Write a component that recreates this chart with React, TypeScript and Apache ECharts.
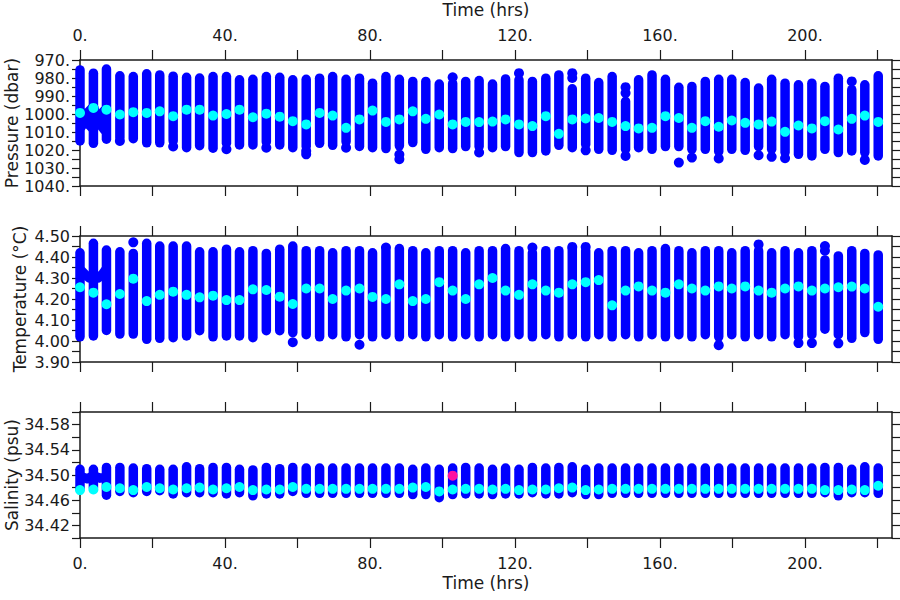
import React, { useEffect, useRef } from 'react';
import * as echarts from 'echarts';

// ---------- data ----------
const TIMES = [0.0, 3.7, 7.3, 11.0, 14.7, 18.4, 22.0, 25.7, 29.4, 33.0, 36.7, 40.4, 44.0, 47.7, 51.4, 55.1, 58.7, 62.4, 66.1, 69.7, 73.4, 77.1, 80.7, 84.4, 88.1, 91.8, 95.4, 99.1, 102.8, 106.4, 110.1, 113.8, 117.4, 121.1, 124.8, 128.5, 132.1, 135.8, 139.5, 143.1, 146.8, 150.5, 154.1, 157.8, 161.5, 165.2, 168.8, 172.5, 176.2, 179.8, 183.5, 187.2, 190.8, 194.5, 198.2, 201.9, 205.5, 209.2, 212.9, 216.5, 220.2];

const P_TOP = [975.5, 977.3, 975.0, 978.8, 979.2, 977.7, 978.3, 979.0, 979.6, 980.0, 979.2, 979.2, 981.0, 980.7, 979.2, 979.6, 981.0, 980.7, 980.1, 979.2, 980.7, 980.1, 982.9, 979.2, 980.7, 981.9, 981.9, 983.4, 983.0, 981.9, 981.4, 983.4, 980.5, 981.0, 981.9, 980.1, 978.3, 986.0, 980.1, 982.5, 979.2, 993.0, 981.0, 978.3, 980.7, 985.2, 984.7, 981.9, 980.7, 980.7, 982.5, 985.6, 980.7, 982.9, 983.8, 982.9, 984.7, 980.1, 986.5, 983.8, 978.8];
const P_BOT = [1015.0, 1016.3, 1014.0, 1013.2, 1013.7, 1016.0, 1016.0, 1015.0, 1018.7, 1017.6, 1019.0, 1016.3, 1017.2, 1017.2, 1015.5, 1017.2, 1018.7, 1018.0, 1016.3, 1017.4, 1015.4, 1018.0, 1018.7, 1019.2, 1017.7, 1015.9, 1019.6, 1018.7, 1019.2, 1018.1, 1018.1, 1018.7, 1018.1, 1021.4, 1021.4, 1020.5, 1017.4, 1018.7, 1017.0, 1019.6, 1020.2, 1019.6, 1018.7, 1019.6, 1018.1, 1018.1, 1019.6, 1019.6, 1020.9, 1019.6, 1020.2, 1018.1, 1019.6, 1021.4, 1022.4, 1023.3, 1019.6, 1021.4, 1020.5, 1021.4, 1023.3];
const P_MEAN = [999.4, 996.6, 997.6, 1000.3, 999.0, 999.4, 998.5, 1001.2, 997.6, 997.6, 1000.9, 1000.0, 997.6, 1001.8, 999.8, 1001.5, 1004.0, 1005.8, 999.4, 1000.9, 1007.7, 1003.0, 998.1, 1004.4, 1003.0, 998.5, 1002.7, 1000.3, 1005.8, 1004.4, 1004.5, 1004.2, 1003.0, 1005.8, 1006.7, 1001.2, 1011.0, 1003.0, 1002.5, 1002.2, 1004.4, 1006.7, 1008.0, 1007.7, 1001.2, 1002.2, 1007.7, 1004.0, 1007.1, 1003.6, 1004.9, 1005.8, 1004.2, 1009.9, 1006.4, 1008.0, 1004.0, 1008.6, 1002.7, 1000.9, 1004.4];
// isolated profile points: [column index, pressure]
const P_OUT = [[3, 1015.0], [7, 1018.0], [11, 1019.6], [14, 1018.7], [17, 1020.5], [17, 1022.4], [20, 1018.7], [24, 1022.5], [24, 1025.1], [28, 979.6], [30, 1021.4], [33, 977.3], [37, 977.3], [37, 980.0], [38, 1020.2], [41, 985.1], [41, 988.4], [41, 1023.3], [45, 1027.0], [46, 1024.2], [48, 1024.7], [51, 1022.9], [52, 1023.8], [53, 1024.6], [58, 981.9], [59, 1025.5]];
// first hours: ship-board casts drawn as traces [time, pressure]
const P_TRACE_A = [[0.4, 1007.0], [2.0, 999.5], [3.7, 996.0], [5.3, 1005.0], [6.8, 1009.0]];
const P_TRACE_B = [[0.4, 999.0], [2.0, 1005.0], [3.7, 1008.5], [5.3, 1001.0], [6.8, 998.0]];

const T_TOP = [4.42, 4.465, 4.433, 4.425, 4.417, 4.465, 4.452, 4.452, 4.452, 4.425, 4.425, 4.437, 4.425, 4.43, 4.417, 4.437, 4.452, 4.43, 4.43, 4.42, 4.43, 4.43, 4.42, 4.43, 4.44, 4.43, 4.42, 4.43, 4.43, 4.42, 4.43, 4.43, 4.44, 4.43, 4.42, 4.43, 4.43, 4.44, 4.43, 4.42, 4.43, 4.43, 4.42, 4.43, 4.44, 4.43, 4.42, 4.43, 4.43, 4.42, 4.43, 4.43, 4.42, 4.43, 4.42, 4.43, 4.386, 4.405, 4.43, 4.417, 4.41];
const T_BOT = [4.02, 4.024, 4.05, 4.033, 4.033, 4.008, 4.013, 4.016, 4.024, 4.049, 4.02, 4.024, 4.024, 4.016, 4.049, 4.049, 4.04, 4.03, 4.02, 4.03, 4.02, 4.03, 4.02, 4.03, 4.02, 4.03, 4.02, 4.03, 4.02, 4.03, 4.02, 4.03, 4.02, 4.03, 4.02, 4.03, 4.02, 4.03, 4.02, 4.03, 4.02, 4.03, 4.02, 4.03, 4.02, 4.03, 4.02, 4.03, 4.02, 4.03, 4.02, 4.03, 4.02, 4.03, 4.02, 4.03, 4.056, 4.03, 4.013, 4.04, 4.008];
const T_MEAN = [4.256, 4.23, 4.175, 4.224, 4.297, 4.19, 4.22, 4.235, 4.22, 4.208, 4.216, 4.195, 4.195, 4.246, 4.243, 4.211, 4.176, 4.25, 4.25, 4.2, 4.24, 4.25, 4.21, 4.2, 4.27, 4.19, 4.2, 4.28, 4.24, 4.2, 4.27, 4.3, 4.24, 4.22, 4.27, 4.24, 4.23, 4.27, 4.28, 4.29, 4.17, 4.24, 4.26, 4.24, 4.23, 4.27, 4.25, 4.24, 4.26, 4.25, 4.26, 4.24, 4.23, 4.25, 4.26, 4.24, 4.25, 4.256, 4.259, 4.25, 4.163];
const T_OUT = [[4, 4.47], [16, 3.994], [21, 3.982], [23, 4.445], [34, 4.445], [37, 4.448], [38, 4.448], [48, 3.98], [51, 4.46], [54, 3.99], [55, 3.99], [56, 4.452], [56, 4.43], [57, 3.989]];
const T_TRACE = [[0.4, 4.335], [1.5, 4.315], [2.6, 4.30], [3.7, 4.31], [5.0, 4.30], [6.3, 4.32], [7.1, 4.34]];

const S_TOP = [34.509, 34.509, 34.512, 34.512, 34.511, 34.51, 34.509, 34.509, 34.513, 34.51, 34.512, 34.512, 34.509, 34.508, 34.512, 34.51, 34.512, 34.511, 34.511, 34.511, 34.511, 34.511, 34.511, 34.511, 34.511, 34.509, 34.511, 34.509, 34.511, 34.512, 34.511, 34.509, 34.511, 34.509, 34.512, 34.511, 34.512, 34.513, 34.509, 34.511, 34.511, 34.511, 34.511, 34.511, 34.511, 34.511, 34.511, 34.511, 34.511, 34.511, 34.511, 34.511, 34.511, 34.511, 34.511, 34.511, 34.512, 34.512, 34.509, 34.513, 34.511];
const S_BOT = [34.478, 34.48, 34.468, 34.474, 34.472, 34.474, 34.475, 34.47, 34.472, 34.472, 34.472, 34.47, 34.472, 34.467, 34.47, 34.47, 34.474, 34.471, 34.471, 34.471, 34.471, 34.471, 34.471, 34.471, 34.471, 34.469, 34.469, 34.464, 34.469, 34.47, 34.47, 34.469, 34.47, 34.47, 34.472, 34.47, 34.47, 34.472, 34.469, 34.469, 34.471, 34.471, 34.471, 34.471, 34.471, 34.471, 34.471, 34.471, 34.471, 34.471, 34.471, 34.471, 34.471, 34.471, 34.471, 34.471, 34.472, 34.467, 34.472, 34.472, 34.471];
const S_MEAN = [34.476, 34.477, 34.481, 34.479, 34.476, 34.481, 34.479, 34.477, 34.479, 34.48, 34.477, 34.479, 34.481, 34.476, 34.477, 34.477, 34.481, 34.478, 34.478, 34.478, 34.478, 34.478, 34.478, 34.478, 34.478, 34.48, 34.481, 34.474, 34.477, 34.478, 34.478, 34.477, 34.478, 34.476, 34.477, 34.477, 34.479, 34.48, 34.476, 34.477, 34.478, 34.478, 34.478, 34.478, 34.478, 34.478, 34.478, 34.478, 34.478, 34.478, 34.478, 34.478, 34.478, 34.478, 34.478, 34.478, 34.476, 34.476, 34.477, 34.476, 34.483];
const S_FLAG = [[28, 34.499]];
const S_TRACE = [[0.4, 34.497], [2.0, 34.494], [3.7, 34.499], [5.5, 34.495], [7.1, 34.496]];

const X_TICKS = [0, 20, 40, 60, 80, 100, 120, 140, 160, 180, 200, 220];
const X_LABELS = [0, 40, 80, 120, 160, 200];
const P_TICKS = [970, 975, 980, 985, 990, 995, 1000, 1005, 1010, 1015, 1020, 1025, 1030, 1035, 1040];
const P_LABELS = [970, 980, 990, 1000, 1010, 1020, 1030, 1040];
const T_TICKS = [3.9, 3.95, 4.0, 4.05, 4.1, 4.15, 4.2, 4.25, 4.3, 4.35, 4.4, 4.45, 4.5];
const T_LABELS = [3.9, 4.0, 4.1, 4.2, 4.3, 4.4, 4.5];
const S_TICKS = [34.4, 34.42, 34.44, 34.46, 34.48, 34.5, 34.52, 34.54, 34.56, 34.58, 34.6];
const S_LABELS = [34.42, 34.46, 34.5, 34.54, 34.58];

// ---------- styling ----------
const BLUE = '#0000ff';
const CYAN = '#00ffff';
const MAGENTA = '#ff10a0';
const INK = '#1a1a1a';
const FONT = 'DejaVu Sans';
const DOT = 10;
const COL_W = 9.5;

const GRIDS = [
  { top: 60, height: 126 },
  { top: 236, height: 126 },
  { top: 412, height: 126 },
];

function xAxesFor(g: number, topLabels: boolean, bottomLabels: boolean) {
  const base = (position: string, labels: boolean) => ({
    type: 'value',
    gridIndex: g,
    position,
    min: 0,
    max: 224,
    axisLine: { show: true, onZero: false, lineStyle: { color: INK, width: 1.5 } },
    axisTick: { show: true, inside: false, length: 10, customValues: X_TICKS, lineStyle: { color: INK, width: 1.2 } },
    splitLine: { show: false },
    axisLabel: {
      show: labels,
      customValues: X_LABELS,
      formatter: (v: number) => v + '.',
      margin: 17,
      fontSize: 16,
      color: INK,
      fontFamily: FONT,
    },
    name: labels ? 'Time (hrs)' : '',
    nameLocation: 'middle',
    nameMoveOverlap: false,
    nameGap: position === 'top' ? 42 : 36,
    nameTextStyle: { fontSize: 17, color: INK, fontFamily: FONT },
  });
  return [base('bottom', bottomLabels), base('top', topLabels)];
}

function yAxesFor(g: number, min: number, max: number, ticks: number[], labels: number[], fmt: (v: number) => string, name: string, nameGap: number, inverse: boolean) {
  const common = {
    type: 'value',
    gridIndex: g,
    min,
    max,
    inverse,
    splitLine: { show: false },
    axisLine: { show: true, onZero: false, lineStyle: { color: INK, width: 1.5 } },
  };
  return [
    {
      ...common,
      position: 'left',
      axisTick: { show: true, inside: false, length: 8, customValues: ticks, lineStyle: { color: INK, width: 1.2 } },
      axisLabel: { show: true, customValues: labels, formatter: fmt, margin: 10, fontSize: 16, color: INK, fontFamily: FONT },
      name,
      nameLocation: 'middle',
      nameRotate: 90,
      nameMoveOverlap: false,
      nameGap,
      nameTextStyle: { fontSize: 17, color: INK, fontFamily: FONT },
    },
    {
      ...common,
      position: 'right',
      axisTick: { show: true, inside: false, length: 8, customValues: ticks, lineStyle: { color: INK, width: 1.2 } },
      axisLabel: { show: false },
    },
  ];
}

function columnSeries(g: number, tops: number[], bots: number[]) {
  return {
    type: 'custom',
    xAxisIndex: g * 2,
    yAxisIndex: g * 2,
    silent: true,
    z: 2,
    data: TIMES.map((t, i) => [t, tops[i], bots[i]]),
    encode: { x: 0, y: [1, 2] },
    renderItem: (_p: any, api: any) => {
      const a = api.coord([api.value(0), api.value(1)]);
      const b = api.coord([api.value(0), api.value(2)]);
      return {
        type: 'line',
        shape: { x1: a[0], y1: a[1], x2: b[0], y2: b[1] },
        style: { stroke: BLUE, lineWidth: COL_W, lineCap: 'round' },
      };
    },
  };
}

function dotSeries(g: number, data: number[][], color: string, z: number) {
  return {
    type: 'scatter',
    xAxisIndex: g * 2,
    yAxisIndex: g * 2,
    silent: true,
    z,
    symbol: 'circle',
    symbolSize: DOT,
    itemStyle: { color, opacity: 1 },
    data,
  };
}

function traceSeries(g: number, data: number[][]) {
  return {
    type: 'line',
    xAxisIndex: g * 2,
    yAxisIndex: g * 2,
    silent: true,
    z: 2,
    showSymbol: false,
    lineStyle: { color: BLUE, width: COL_W, cap: 'round', join: 'round' },
    data,
  };
}

const byIndex = (arr: number[][]) => arr.map(([k, v]) => [TIMES[k], v]);
const means = (arr: number[]) => TIMES.map((t, i) => [t, arr[i]]);

const option = {
  animation: false,
  backgroundColor: '#ffffff',
  grid: GRIDS.map((g) => ({ left: 80, right: 8, top: g.top, height: g.height, containLabel: false, outerBoundsMode: 'none' })),
  xAxis: [...xAxesFor(0, true, false), ...xAxesFor(1, false, false), ...xAxesFor(2, false, true)],
  yAxis: [
    ...yAxesFor(0, 970, 1040, P_TICKS, P_LABELS, (v) => v.toFixed(0) + '.', 'Pressure (dbar)', 60, true),
    ...yAxesFor(1, 3.9, 4.5, T_TICKS, T_LABELS, (v) => v.toFixed(2), 'Temperature (°C)', 52, false),
    ...yAxesFor(2, 34.4, 34.6, S_TICKS, S_LABELS, (v) => v.toFixed(2), 'Salinity (psu)', 60, false),
  ],
  series: [
    columnSeries(0, P_TOP, P_BOT),
    dotSeries(0, byIndex(P_OUT), BLUE, 2),
    traceSeries(0, P_TRACE_A),
    traceSeries(0, P_TRACE_B),
    dotSeries(0, means(P_MEAN), CYAN, 3),

    columnSeries(1, T_TOP, T_BOT),
    dotSeries(1, byIndex(T_OUT), BLUE, 2),
    traceSeries(1, T_TRACE),
    dotSeries(1, means(T_MEAN), CYAN, 3),

    columnSeries(2, S_TOP, S_BOT),
    traceSeries(2, S_TRACE),
    dotSeries(2, means(S_MEAN), CYAN, 3),
    dotSeries(2, byIndex(S_FLAG), MAGENTA, 4),
  ],
};

export default function App() {
  const ref = useRef<HTMLDivElement>(null);
  useEffect(() => {
    const chart = echarts.init(ref.current as HTMLDivElement, null, { renderer: 'svg' });
    chart.setOption(option as any);
    return () => chart.dispose();
  }, []);
  return <div ref={ref} style={{ position: 'fixed', left: 0, top: 0, width: 900, height: 600, background: '#fff' }} />;
}
